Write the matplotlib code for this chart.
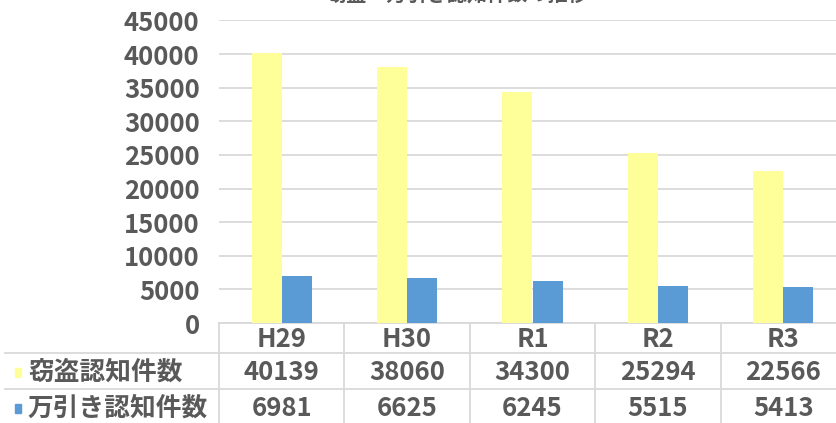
import numpy as np
import matplotlib
matplotlib.use('Agg')
import matplotlib.pyplot as plt
import matplotlib.transforms as mtransforms
from matplotlib.patches import Rectangle

plt.rcParams['font.family'] = ['Noto Sans CJK JP', 'DejaVu Sans']

#========= データ ==========================================
years = ['H29', 'H30', 'R1', 'R2', 'R3']
settou = [40139, 38060, 34300, 25294, 22566]      # 窃盗認知件数
manbiki = [6981, 6625, 6245, 5515, 5413]         # 万引き認知件数
series_names = ['窃盗認知件数', '万引き認知件数']
yticks = [0, 5000, 10000, 15000, 20000, 25000, 30000, 35000, 40000, 45000]

c_yellow = '#FFFF99'
c_blue = '#5B9BD5'
c_text = '#595959'
c_grid = '#D9D9D9'

W, H = 837, 423
fig = plt.figure(figsize=(W/100, H/100), dpi=100)

def fy(p):                      # pixel y (from top) -> figure fraction
    return (H - p) / H

def fx(p):
    return p / W

x_left, x_right = 219, 846
y_top, y_zero = 20.5, 323
ax = fig.add_axes([fx(x_left), fy(y_zero), fx(x_right - x_left), (y_zero - y_top) / H])

x = np.arange(len(years))
w = 0.24
ax.bar(x - w/2, settou, w, color=c_yellow, zorder=3)
ax.bar(x + w/2, manbiki, w, color=c_blue, zorder=3)

ax.set_xlim(-0.5, len(years) - 0.5)
ax.set_ylim(0, 45000)
ax.set_yticks(yticks)
ax.set_yticklabels([str(v) for v in yticks])
ax.tick_params(axis='y', length=0, pad=14, labelsize=18.5, labelcolor=c_text)
for lab in ax.get_yticklabels():
    lab.set_fontweight('bold')
ax.set_xticks([])
ax.yaxis.grid(True, color=c_grid, linewidth=1.3, zorder=0)
for s in ax.spines.values():
    s.set_visible(False)
ax.set_axisbelow(True)

# タイトル (元画像では上が切れている)
fig.text(fx(457), fy(0.5), '窃盗・万引き認知件数の推移', ha='center', va='baseline',
         fontsize=14.5, color=c_text, fontweight='bold')

#========= データテーブル ==================================
trans = mtransforms.blended_transform_factory(ax.transData, fig.transFigure)
row_lines = [353, 389]
rows_y = [339, 372, 408]

# 罫線
ax.plot([x_left/W, 1], [fy(y_zero)]*2, color=c_grid, lw=1.3, transform=fig.transFigure, clip_on=False)
for ry in row_lines:
    ax.plot([5/W, 1], [fy(ry)]*2, color=c_grid, lw=1.3, transform=fig.transFigure, clip_on=False)
for i in range(len(years) + 1):
    ax.plot([i - 0.5, i - 0.5], [fy(y_zero), 0], color=c_grid, lw=1.3, transform=trans, clip_on=False)

for i, yr in enumerate(years):
    ax.text(i, fy(rows_y[0]), yr, transform=trans, ha='center', va='center',
            fontsize=18.5, fontweight='bold', color=c_text)
    ax.text(i, fy(rows_y[1]), str(settou[i]), transform=trans, ha='center', va='center',
            fontsize=18.5, fontweight='bold', color=c_text)
    ax.text(i, fy(rows_y[2]), str(manbiki[i]), transform=trans, ha='center', va='center',
            fontsize=18.5, fontweight='bold', color=c_text)

# 凡例キー
for name, col, ry in zip(series_names, [c_yellow, c_blue], rows_y[1:]):
    fig.patches.append(Rectangle((fx(15), fy(ry + 4.5)), 6/W, 9/H, color=col,
                                 transform=fig.transFigure, figure=fig))
    fig.text(fx(28), fy(ry), name, ha='left', va='center', fontsize=18.5,
             fontweight='bold', color=c_text)

fig.savefig('out.png', dpi=100)
